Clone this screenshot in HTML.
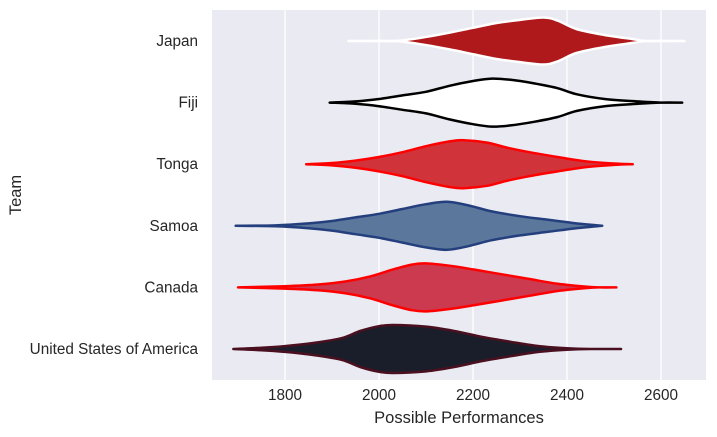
<!DOCTYPE html>
<html><head><meta charset="utf-8"><style>
body{margin:0;background:#fff;}
svg{display:block;font-family:"Liberation Sans",sans-serif;}
</style></head><body>
<svg width="717" height="437" viewBox="0 0 717 437">
<rect x="212" y="10" width="494" height="370" fill="#eaeaf2"/>
<g id="grid"></g><g id="violins"></g><g id="labels"></g>
<text x="459" y="423" font-size="16.5" text-anchor="middle" fill="#262626">Possible Performances</text>
<text transform="translate(21,195) rotate(-90)" font-size="16.5" text-anchor="middle" fill="#262626">Team</text>
</svg>
<script>
const teams=["Japan","Fiji","Tonga","Samoa","Canada","United States of America"];
const xTicks=[1800,2000,2200,2400,2600];
const japanV=[1935,2030,2060,2100,2150,2200,2250,2300,2350,2380,2420,2480,2540,2570,2650];
const japanD=[0,0,0.05,0.17,0.35,0.55,0.75,0.88,0.98,0.85,0.5,0.25,0.08,0,0];
const fijiV=[1895,1950,2000,2050,2100,2150,2200,2240,2280,2330,2380,2420,2480,2550,2600,2645];
const fijiD=[0,0.05,0.15,0.3,0.45,0.7,0.9,1,0.95,0.8,0.6,0.35,0.15,0.05,0,0];
const tongaV=[1845,1900,1950,2000,2050,2100,2150,2180,2230,2270,2320,2380,2440,2500,2540];
const tongaD=[0,0.05,0.15,0.3,0.5,0.75,0.95,1,0.9,0.7,0.5,0.3,0.12,0.03,0];
const samoaV=[1695,1780,1850,1900,1950,2000,2050,2100,2145,2190,2240,2300,2360,2420,2475];
const samoaD=[0,0.02,0.1,0.2,0.35,0.5,0.7,0.9,1,0.85,0.6,0.4,0.25,0.1,0];
const canadaV=[1700,1800,1870,1930,1980,2030,2070,2100,2150,2200,2260,2320,2380,2440,2470,2505];
const canadaD=[0,0.05,0.12,0.25,0.45,0.75,0.95,1,0.9,0.75,0.55,0.35,0.15,0.03,0,0];
const usaV=[1690,1750,1800,1860,1920,1960,2000,2030,2100,2160,2220,2280,2340,2400,2450,2515];
const usaD=[0,0.05,0.12,0.25,0.45,0.75,0.95,1,0.93,0.75,0.5,0.3,0.12,0.03,0,0];
const vals=[japanV,fijiV,tongaV,samoaV,canadaV,usaV];
const dens=[japanD,fijiD,tongaD,samoaD,canadaD,usaD];
const fills=["#b0191b","#ffffff","#d0343a","#5b779c","#cc3a50","#1a1e2a"];
const strokes=["#ffffff","#000000","#ff0000","#243f7d","#ff0000","#4a1020"];
const NS="http://www.w3.org/2000/svg";
const xS=v=>285+(v-1800)*0.47;
const yS=i=>41+i*61.6;
const HW=24;
function mk(t,a,p){const e=document.createElementNS(NS,t);for(const k in a)e.setAttribute(k,a[k]);p.appendChild(e);return e;}
const grid=document.getElementById('grid'),vg=document.getElementById('violins'),lg=document.getElementById('labels');
xTicks.forEach(t=>{
  const l=mk('line',{x1:xS(t),x2:xS(t),y1:10,y2:380,stroke:'#fff','stroke-width':1.3},grid);
  
  
  const tx=mk('text',{x:xS(t),y:400,'font-size':15.3,'text-anchor':'middle',fill:'#262626'},lg);
  tx.textContent=t;
  
  
});
teams.forEach((name,i)=>{
  const v=vals[i],d=dens[i],cy=yS(i);
  let top=v.map((x,j)=>[xS(x),cy-d[j]*HW]);
  let bot=v.map((x,j)=>[xS(x),cy+d[j]*HW]).reverse();
  function path(p){let s='M'+p[0][0]+','+p[0][1];for(let k=0;k<p.length-1;k++){const p0=p[Math.max(k-1,0)],p1=p[k],p2=p[k+1],p3=p[Math.min(k+2,p.length-1)];s+=' C'+(p1[0]+(p2[0]-p0[0])/6)+','+(p1[1]+(p2[1]-p0[1])/6)+' '+(p2[0]-(p3[0]-p1[0])/6)+','+(p2[1]-(p3[1]-p1[1])/6)+' '+p2[0]+','+p2[1];}return s;}
  const pa=mk('path',{d:path(top)+' L'+path(bot).slice(1)+' Z',fill:fills[i],stroke:strokes[i],'stroke-width':2.5,'stroke-linejoin':'round','stroke-linecap':'round'},vg);
  
  
  const tx=mk('text',{x:198,y:cy+5,'font-size':15.3,'text-anchor':'end',fill:'#262626'},lg);
  tx.textContent=name;
  
  
});
</script>
</body></html>
